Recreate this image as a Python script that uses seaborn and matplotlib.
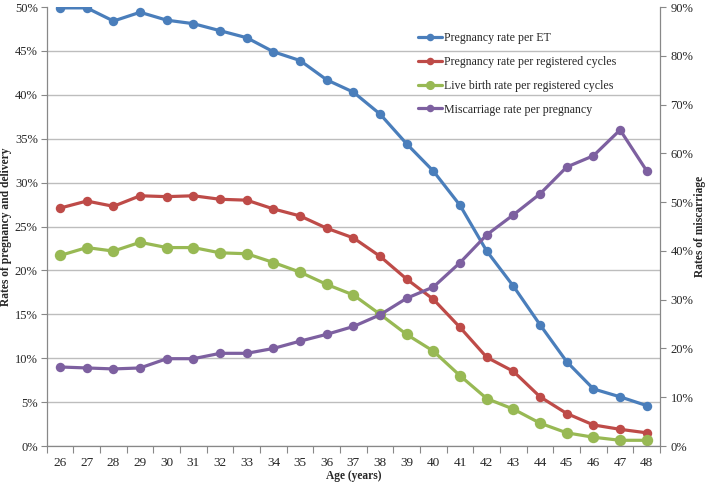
import numpy as np
import pandas as pd
import matplotlib
matplotlib.use("Agg")
import matplotlib.pyplot as plt
import seaborn as sns
from matplotlib.ticker import FixedLocator, PercentFormatter

ages = [26, 27, 28, 29, 30, 31, 32, 33, 34, 35, 36, 37, 38, 39, 40, 41, 42, 43, 44, 45, 46, 47, 48]
preg_per_et = [49.9, 49.9, 48.4, 49.4, 48.5, 48.1, 47.3, 46.5, 44.9, 43.9, 41.7, 40.3,
               37.8, 34.4, 31.3, 27.4, 22.2, 18.2, 13.8, 9.6, 6.5, 5.6, 4.6]
preg_per_cycle = [27.1, 27.9, 27.3, 28.5, 28.4, 28.5, 28.1, 28.0, 27.0, 26.2, 24.8, 23.7,
                  21.6, 19.0, 16.7, 13.5, 10.1, 8.5, 5.6, 3.7, 2.4, 1.9, 1.5]
live_birth = [21.7, 22.6, 22.2, 23.2, 22.6, 22.6, 22.0, 21.9, 20.9, 19.8, 18.4, 17.2,
              15.0, 12.7, 10.8, 8.0, 5.4, 4.2, 2.6, 1.5, 1.0, 0.65, 0.65]
miscarriage = [16.2, 16.0, 15.8, 16.0, 17.9, 17.9, 19.0, 19.0, 20.0, 21.5, 22.9, 24.5,
               26.9, 30.3, 32.6, 37.6, 43.3, 47.4, 51.7, 57.2, 59.5, 64.8, 56.4]

names = ["Pregnancy rate per ET", "Pregnancy rate per registered cycles",
         "Live birth rate per registered cycles", "Miscarriage rate per pregnancy"]
colors = ["#4A7EBB", "#BE4B48", "#98B954", "#7D60A0"]
msizes = [6.8, 6.8, 8.2, 6.8]

pos = np.arange(len(ages))
serif = ["Liberation Serif", "DejaVu Serif"]

sns.set_theme(style="white")
plt.rcParams["font.family"] = serif

fig = plt.figure(figsize=(7.09, 4.83), dpi=100)
ax = fig.add_axes([0.066, 0.0766, 0.865, 0.9089])
ax2 = ax.twinx()

left_series = [preg_per_et, preg_per_cycle, live_birth]
for vals, name, c, ms in zip(left_series, names[:3], colors[:3], msizes[:3]):
    df = pd.DataFrame({"pos": pos, "val": vals})
    sns.lineplot(data=df, x="pos", y="val", ax=ax, color=c, marker="o", markersize=ms,
                 markeredgewidth=0, linewidth=2.3, label=name, legend=False)
dfm = pd.DataFrame({"pos": pos, "val": miscarriage})
sns.lineplot(data=dfm, x="pos", y="val", ax=ax2, color=colors[3], marker="o", markersize=msizes[3],
             markeredgewidth=0, linewidth=2.3, label=names[3], legend=False)

ax.set_xlim(-0.5, len(ages) - 0.5)
ax.set_ylim(0, 50)
ax2.set_ylim(0, 90)

ax.yaxis.set_major_locator(FixedLocator(np.arange(0, 51, 5)))
ax.yaxis.set_major_formatter(PercentFormatter(decimals=0))
ax2.yaxis.set_major_locator(FixedLocator(np.arange(0, 91, 10)))
ax2.yaxis.set_major_formatter(PercentFormatter(decimals=0))

ax.set_xticks(np.arange(-0.5, len(ages), 1.0))
ax.set_xticklabels([])
ax.set_xticks(pos, minor=True)
ax.set_xticklabels([str(a) for a in ages], minor=True)
ax.tick_params(axis="x", which="major", length=5, width=0.8, color="#888888", direction="out", bottom=True)
ax.tick_params(axis="x", which="minor", length=0, pad=8, labelsize=9.5)
ax.tick_params(axis="y", length=4, width=0.8, color="#888888", direction="out", left=True, labelsize=9.0, pad=2.5)
ax2.tick_params(axis="y", length=4, width=0.8, color="#888888", direction="out", right=True, labelsize=9.0, pad=3.5)

ax.grid(axis="y", color="#BDBDBD", linewidth=1.0)
ax.grid(axis="x", visible=False)
ax2.grid(False)
ax.set_axisbelow(True)
gl = ax.yaxis.get_gridlines()
gl[-1].set_visible(False)

for a in (ax, ax2):
    a.spines["top"].set_visible(False)
    for s in ("left", "right", "bottom"):
        a.spines[s].set_color("#888888")
        a.spines[s].set_linewidth(0.9)
ax.spines["right"].set_visible(False)
ax2.spines["left"].set_visible(False)
ax2.spines["bottom"].set_visible(False)

ax.set_xlabel("Age (years)", fontweight="bold", fontsize=8.3, va="center")
ax.set_ylabel("Rates of pregnancy and delivery", fontweight="bold", fontsize=8.3, va="center")
ax2.set_ylabel("Rates of miscarriage", fontweight="bold", fontsize=8.3, va="center")
ax.xaxis.set_label_coords(0.5, -0.068)
ax.yaxis.set_label_coords(-0.0665, 0.5)
ax2.yaxis.set_label_coords(1.065, 0.5)

h1, l1 = ax.get_legend_handles_labels()
h2, l2 = ax2.get_legend_handles_labels()
leg = ax2.legend(h1 + h2, l1 + l2, loc="upper left", bbox_to_anchor=(0.588, 0.968),
                 frameon=False, fontsize=8.6, handlelength=2.0, handletextpad=0.15,
                 labelspacing=1.0, markerscale=0.8)

fig.savefig("out.png", dpi=100)
